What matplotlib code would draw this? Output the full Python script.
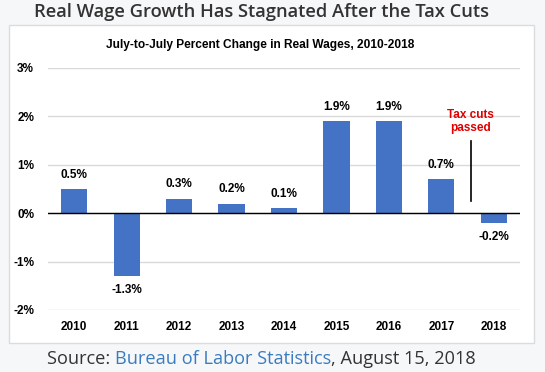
import matplotlib
matplotlib.use("Agg")
import matplotlib.pyplot as plt
from matplotlib.patches import Rectangle

years = ["2010", "2011", "2012", "2013", "2014", "2015", "2016", "2017", "2018"]
values = [0.5, -1.3, 0.3, 0.2, 0.1, 1.9, 1.9, 0.7, -0.2]
yticks = [-2, -1, 0, 1, 2, 3]
ytick_labels = ["-2%", "-1%", "0%", "1%", "2%", "3%"]

arial = ["Liberation Sans", "DejaVu Sans"]

fig = plt.figure(figsize=(5.45, 3.72), dpi=100)
fig.patch.set_facecolor("#f6f7f9")

# white chart box
box = Rectangle((9 / 545, 1 - 343 / 372), (534 - 9) / 545, (343 - 25) / 372,
                transform=fig.transFigure, facecolor="white", edgecolor="#dcdcdc",
                linewidth=1, zorder=-10)
fig.patches.append(box)

ax = fig.add_axes([48 / 545, 1 - 310 / 372, (520 - 48) / 545, (310 - 68) / 372])
ax.set_facecolor("none")
x = list(range(len(years)))
ax.bar(x, values, width=0.5, color="#4472c4", zorder=3)
ax.set_xlim(-0.5, 8.5)
ax.set_ylim(-2, 3)
ax.set_yticks(yticks)
ax.set_yticklabels(ytick_labels, family=arial, fontsize=8.5, fontweight="bold")
ax.set_xticks(x)
ax.set_xticklabels(years, family=arial, fontsize=8.5, fontweight="bold")
ax.tick_params(axis="y", length=0, pad=10)
ax.tick_params(axis="x", length=0, pad=8)
ax.grid(axis="y", color="#d9d9d9", linewidth=1, zorder=0)
for s in ax.spines.values():
    s.set_visible(False)
ax.axhline(0, color="black", linewidth=1, zorder=4)

for xi, v in zip(x, values):
    if v >= 0:
        ax.annotate(f"{v:.1f}%", (xi, v), xytext=(0, 6), textcoords="offset points",
                    ha="center", va="bottom", family=arial, fontsize=8.5, fontweight="bold")
    else:
        ax.annotate(f"{v:.1f}%", (xi, v), xytext=(0, -6), textcoords="offset points",
                    ha="center", va="top", family=arial, fontsize=8.5, fontweight="bold")

# tax cuts annotation
ax.plot([7.56, 7.56], [0.25, 1.5], color="black", linewidth=1.2, zorder=4)
ax.text(7.56, 1.9, "Tax cuts\npassed", ha="center", va="center", color="#e00000",
        family=arial, fontsize=8.5, fontweight="bold", linespacing=1.1)

# subtitle
fig.text(260 / 545, 1 - 45 / 372, "July-to-July Percent Change in Real Wages, 2010-2018",
         ha="center", va="center", family=arial, fontsize=8.6, fontweight="bold")

# main title
fig.text(262 / 545, 1 - 12 / 372, "Real Wage Growth Has Stagnated After the Tax Cuts",
         ha="center", va="center", family=["Open Sans", "DejaVu Sans"], fontsize=13.2,
         fontweight="semibold", color="#333333")

# source line with mixed colours
renderer = fig.canvas.get_renderer()
parts = [("Source: ", "#333333"), ("Bureau of Labor Statistics", "#3a7bbf"),
         (", August 15, 2018", "#333333")]
ypos = 1 - 359 / 372
xpix = 47
for txt, col in parts:
    t = fig.text(xpix / 545, ypos, txt, ha="left", va="center",
                 family=["Open Sans", "DejaVu Sans"], fontsize=13.1, color=col)
    bb = t.get_window_extent(renderer=renderer)
    xpix += bb.width

fig.savefig("out.png", dpi=100, facecolor=fig.get_facecolor())
